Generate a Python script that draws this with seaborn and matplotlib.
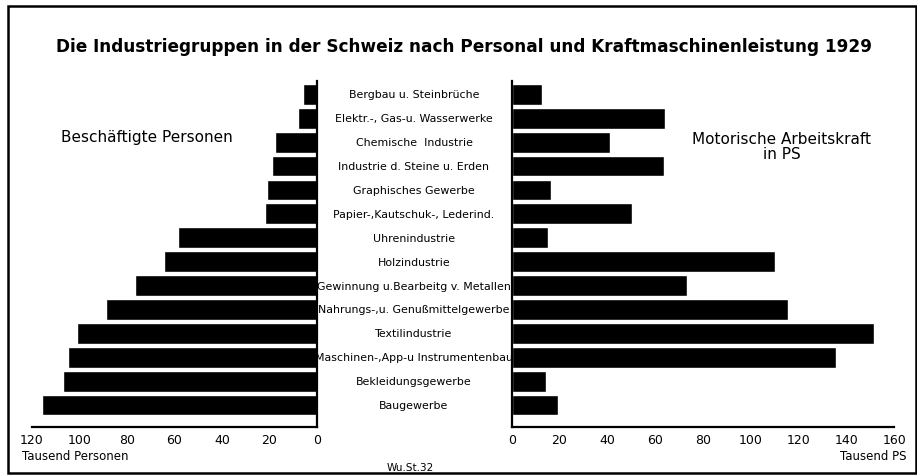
import matplotlib
matplotlib.use("Agg")
import matplotlib.pyplot as plt
import matplotlib.transforms as mtransforms
from matplotlib.patches import Rectangle
import seaborn as sns
import pandas as pd

categories = [
    "Bergbau u. Steinbrüche",
    "Elektr.-, Gas-u. Wasserwerke",
    "Chemische  Industrie",
    "Industrie d. Steine u. Erden",
    "Graphisches Gewerbe",
    "Papier-,Kautschuk-, Lederind.",
    "Uhrenindustrie",
    "Holzindustrie",
    "Gewinnung u.Bearbeitg v. Metallen",
    "Nahrungs-,u. Genußmittelgewerbe",
    "Textilindustrie",
    "Maschinen-,App-u Instrumentenbau",
    "Bekleidungsgewerbe",
    "Baugewerbe",
]
personen = [6, 8, 17.5, 19, 21, 22, 58.5, 64.5, 76.5, 89, 101, 105, 107, 116]
ps = [12.5, 64, 41, 63.5, 16.5, 50.5, 15, 110, 73.5, 115.5, 151.5, 135.5, 14.5, 19.5]
left_ticks = [0, 20, 40, 60, 80, 100, 120]
right_ticks = [0, 20, 40, 60, 80, 100, 120, 140, 160]

title = "Die Industriegruppen in der Schweiz nach Personal und Kraftmaschinenleistung 1929"

sns.set_style("white")
plt.rcParams["font.family"] = ["DejaVu Sans"]

W, H = 917, 477
fig = plt.figure(figsize=(W / 100, H / 100), dpi=100)

def fx(px):
    return px / W

def fy(py):
    return 1 - py / H

ax_top, ax_bot = 82, 428
axL = fig.add_axes([fx(32), fy(ax_bot), fx(317) - fx(32), fy(ax_top) - fy(ax_bot)])
axR = fig.add_axes([fx(511.7), fy(ax_bot), fx(894.3) - fx(511.7), fy(ax_top) - fy(ax_bot)])

df = pd.DataFrame({"cat": categories, "pers": personen, "ps": ps})
sns.barplot(data=df, x="pers", y="cat", ax=axL, color="black", width=0.87,
            saturation=1, orient="h")
sns.barplot(data=df, x="ps", y="cat", ax=axR, color="black", width=0.87,
            saturation=1, orient="h")

ylim = (13.92, -0.56)
for ax in (axL, axR):
    ax.set_ylim(*ylim)
    ax.set_ylabel("")
    ax.set_xlabel("")
    ax.set_yticks([])
    ax.set_facecolor("none")
    ax.spines["top"].set_visible(False)
    for s in ax.spines.values():
        s.set_color("black")
        s.set_linewidth(1.6)
    ax.tick_params(axis="x", direction="inout", length=7, width=1.2,
                   labelsize=9, pad=0.5, colors="black")

axL.set_xlim(120, 0)
axL.set_xticks(left_ticks)
axL.spines["left"].set_visible(False)
axL.spines["right"].set_visible(True)

axR.set_xlim(0, 160)
axR.set_xticks(right_ticks)
axR.spines["right"].set_visible(False)

# Category labels in the middle column
trans = mtransforms.blended_transform_factory(fig.transFigure, axL.transData)
for i, c in enumerate(categories):
    fig.text(fx(414), i, c, transform=trans, ha="center", va="center",
             color="black", fontsize=7.9)

fig.text(fx(464), fy(47), title, ha="center", va="center", fontsize=12.2,
         fontweight="bold", color="black")
fig.text(fx(147), fy(138), "Beschäftigte Personen", ha="center", va="center",
         fontsize=11, color="black")
fig.text(fx(782), fy(147), "Motorische Arbeitskraft\nin PS", ha="center",
         va="center", fontsize=11, color="black", linespacing=1.0)
fig.text(fx(22), fy(457), "Tausend Personen", ha="left", va="center",
         fontsize=8.5, color="black")
fig.text(fx(907), fy(457), "Tausend PS", ha="right", va="center",
         fontsize=8.5, color="black")
fig.text(fx(410), fy(468), "Wu.St.32", ha="center", va="center",
         fontsize=7.5, color="black")

fig.patches.append(Rectangle((fx(8), fy(474)), fx(916) - fx(8), fy(7) - fy(474),
                             transform=fig.transFigure, fill=False,
                             edgecolor="black", linewidth=1.8))

fig.savefig("out.png", dpi=100)
